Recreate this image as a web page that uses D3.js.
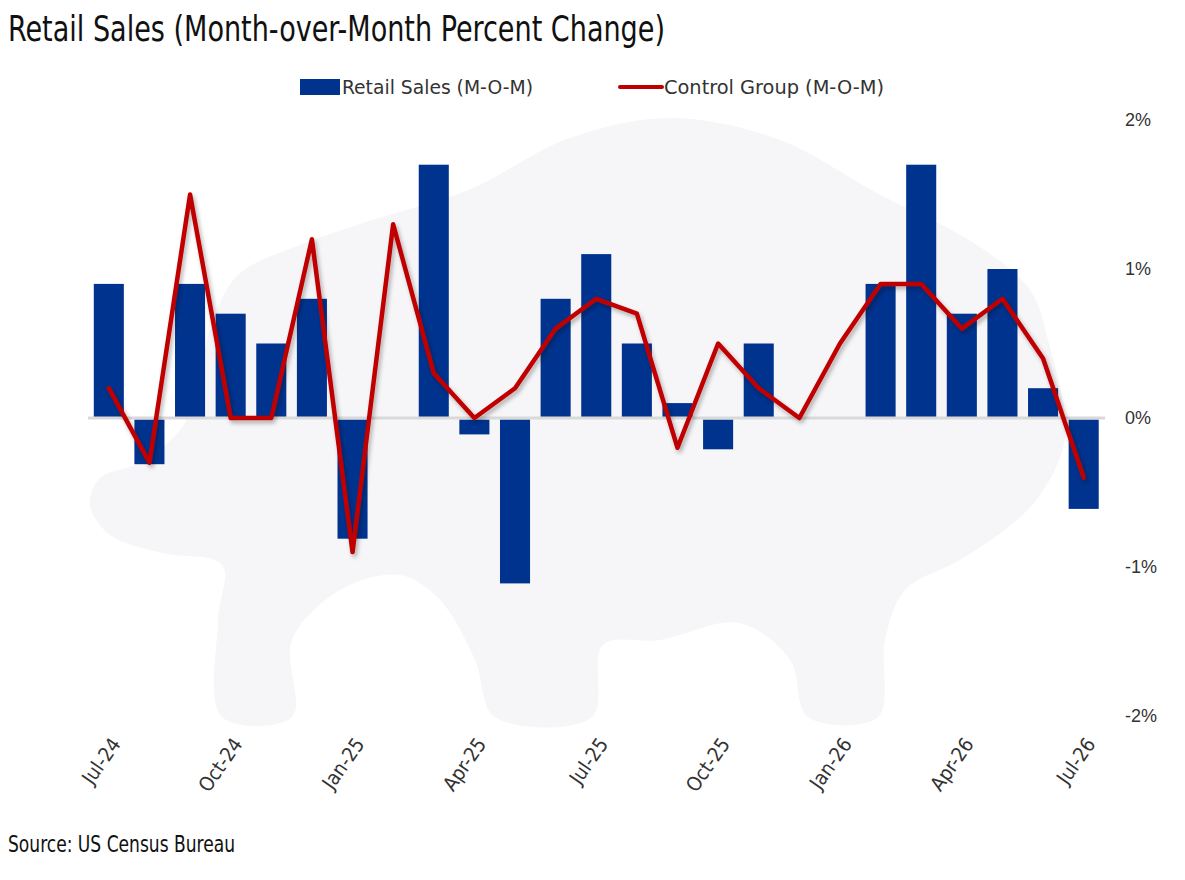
<!DOCTYPE html>
<html>
<head>
<meta charset="utf-8">
<script src="https://cdn.jsdelivr.net/npm/d3@7"></script>
<style>
  html, body { margin: 0; padding: 0; background: #ffffff; }
  svg { display: block; }
</style>
</head>
<body>
<svg id="chart" width="1185" height="880"></svg>
<script>
// ---- Data ----
const months = ["Jul-24","Aug-24","Sep-24","Oct-24","Nov-24","Dec-24","Jan-25","Feb-25","Mar-25","Apr-25","May-25","Jun-25","Jul-25","Aug-25","Sep-25","Oct-25","Nov-25","Dec-25","Jan-26","Feb-26","Mar-26","Apr-26","May-26","Jun-26","Jul-26"];
const retailSales = [0.9,-0.3,0.9,0.7,0.5,0.8,-0.8,0.0,1.7,-0.1,-1.1,0.8,1.1,0.5,0.1,-0.2,0.5,0.0,0.0,0.9,1.7,0.7,1.0,0.2,-0.6];
const controlGroup = [0.2,-0.3,1.5,0.0,0.0,1.2,-0.9,1.3,0.3,0.0,0.2,0.6,0.8,0.7,-0.2,0.5,0.2,0.0,0.5,0.9,0.9,0.6,0.8,0.4,-0.4];
const xTickLabels = ["Jul-24","Oct-24","Jan-25","Apr-25","Jul-25","Oct-25","Jan-26","Apr-26","Jul-26"];
const yTicks = [-2,-1,0,1,2];
const seriesNames = ["Retail Sales (M-O-M)","Control Group (M-O-M)"];
const titleText = "Retail Sales (Month-over-Month Percent Change)";
const sourceText = "Source: US Census Bureau";

// ---- Layout ----
const svg = d3.select("#chart");
const narrow = "'Liberation Sans Narrow','DejaVu Sans Condensed','Arial Narrow',sans-serif";
const BLUE = "#00338e", RED = "#c00000";

const x = d3.scaleBand().domain(months).range([88.5, 1104]).paddingInner(0.26).paddingOuter(0.13);
const y = d3.scaleLinear().domain([-2, 2]).range([716, 120]);

// drop shadow filter for the line
const defs = svg.append("defs");
const f = defs.append("filter").attr("id","shadow").attr("x","-10%").attr("y","-10%").attr("width","120%").attr("height","130%");
f.append("feDropShadow").attr("dx",2).attr("dy",3).attr("stdDeviation",2).attr("flood-color","#000").attr("flood-opacity",0.3);

// ---- Watermark (decorative bison silhouette) ----
const bison = [[671,118],[780,140],[875,192],[977,245],[1030,290],[1048,340],[1065,438],[1040,495],[1011,525],[960,560],[905,590],[885,640],[878,717],[808,717],[790,660],[739,623],[660,640],[603,645],[592,717],[495,717],[475,660],[440,600],[400,575],[340,590],[292,640],[292,717],[222,717],[218,620],[222,565],[162,553],[110,535],[90,505],[100,478],[142,462],[180,430],[196,397],[210,330],[238,275],[300,245],[366,222],[468,190],[570,138]];
svg.append("path")
  .attr("d", d3.line().curve(d3.curveCatmullRomClosed.alpha(0.5))(bison))
  .attr("fill","#f6f6f8");

// ---- Title ----
const title = svg.append("text")
  .attr("x", 8).attr("y", 41)
  .attr("font-family", narrow).attr("font-size", 35)
  .attr("fill","#111")
  .text(titleText);
title.attr("textLength", 657).attr("lengthAdjust","spacingAndGlyphs");

// ---- Legend ----
const lg = svg.append("g").attr("font-family", narrow).attr("font-size", 20).attr("fill","#333");
lg.append("rect").attr("x",300).attr("y",79).attr("width",40).attr("height",16).attr("fill",BLUE);
lg.append("text").attr("x",342).attr("y",94).text(seriesNames[0]).attr("textLength",191).attr("lengthAdjust","spacingAndGlyphs");
lg.append("line").attr("x1",620).attr("x2",662).attr("y1",87).attr("y2",87).attr("stroke",RED).attr("stroke-width",4).attr("stroke-linecap","round");
lg.append("text").attr("x",664).attr("y",94).text(seriesNames[1]).attr("textLength",220).attr("lengthAdjust","spacingAndGlyphs");

// ---- Bars ----
svg.append("g").selectAll("rect").data(months).join("rect")
  .attr("x", d => x(d))
  .attr("width", x.bandwidth())
  .attr("y", (d,i) => y(Math.max(0, retailSales[i])) + (retailSales[i] < 0 ? 1.5 : 0))
  .attr("height", (d,i) => Math.abs(y(retailSales[i]) - y(0)))
  .attr("fill", BLUE);

// ---- Zero line ----
svg.append("line")
  .attr("x1", 88).attr("x2", 1105)
  .attr("y1", y(0)).attr("y2", y(0))
  .attr("stroke","#d9d9d9").attr("stroke-width",3);

// ---- Control group line ----
svg.append("path")
  .datum(controlGroup)
  .attr("d", d3.line().x((d,i) => x(months[i]) + x.bandwidth()/2).y(d => y(d)))
  .attr("fill","none").attr("stroke",RED).attr("stroke-width",4.5)
  .attr("stroke-linejoin","round").attr("stroke-linecap","round")
  .attr("filter","url(#shadow)");

// ---- Right Y axis ----
const yAxis = d3.axisRight(y).tickValues(yTicks).tickSize(0).tickPadding(0)
  .tickFormat(d => d + "%");
const ya = svg.append("g").attr("transform","translate(1125,0)").call(yAxis);
ya.select(".domain").remove();
ya.selectAll("text").attr("font-family","'Liberation Sans',Arial,sans-serif").attr("font-size",18).attr("fill","#333");

// ---- X axis labels ----
const xAxis = d3.axisBottom(x).tickValues(xTickLabels).tickSize(0).tickPadding(0);
const xa = svg.append("g").attr("transform","translate(0,740)").call(xAxis);
xa.select(".domain").remove();
xa.selectAll("text")
  .attr("font-family", narrow).attr("font-size", 20).attr("fill","#333")
  .attr("text-anchor","end").attr("dy","0.35em")
  .attr("transform","translate(7,0) rotate(-55)");

// ---- Source ----
svg.append("text").attr("x",8).attr("y",852)
  .attr("font-family", narrow).attr("font-size",23).attr("fill","#111")
  .text(sourceText).attr("textLength",227).attr("lengthAdjust","spacingAndGlyphs");
</script>
</body>
</html>
